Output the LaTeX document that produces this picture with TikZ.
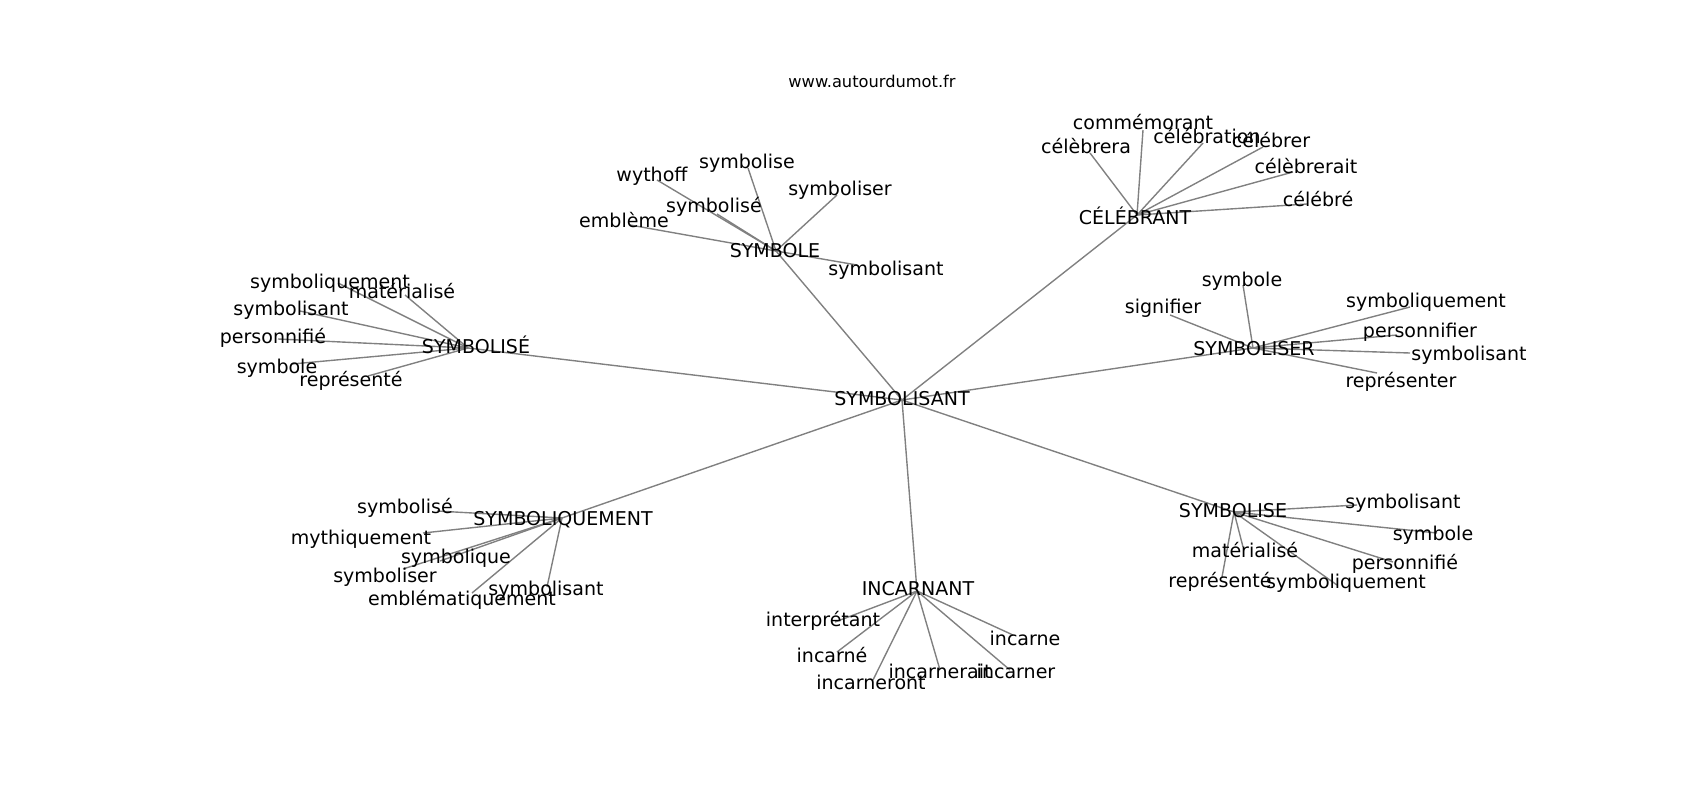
\documentclass[tikz,border=0pt]{standalone}
\usepackage{fontspec}
\setmainfont{DejaVu Sans}
\definecolor{edgegray}{RGB}{128,128,128}
\tikzset{
  lbl/.style={anchor=base, inner sep=0pt, font=\fontsize{13.7}{16}\selectfont, text=black},
  ttl/.style={anchor=base, inner sep=0pt, font=\fontsize{11.7}{14}\selectfont, text=black},
  link/.style={draw=edgegray, line width=1pt},
}
\begin{document}
\begin{tikzpicture}[x=0.72pt,y=-0.72pt]
\useasboundingbox (0,0) rectangle (1700,800);
% ---------- graph points ----------
\coordinate (pC) at (902,400);
\coordinate (pA) at (468,348);
\coordinate (pa1) at (338,283);
\coordinate (pa2) at (405,295);
\coordinate (pa3) at (300,311);
\coordinate (pa4) at (278,339);
\coordinate (pa5) at (292,364);
\coordinate (pa6) at (368,376);
\coordinate (pB) at (776,251);
\coordinate (pb1) at (748,168);
\coordinate (pb2) at (657,180);
\coordinate (pb3) at (837,195);
\coordinate (pb4) at (717,214);
\coordinate (pb5) at (630,225);
\coordinate (pb6) at (857,265);
\coordinate (pD) at (1137,215);
\coordinate (pd1) at (1143,130);
\coordinate (pd2) at (1090,153);
\coordinate (pd3) at (1203,143);
\coordinate (pd4) at (1263,147);
\coordinate (pd5) at (1293,172);
\coordinate (pd6) at (1307,204);
\coordinate (pE) at (1253,348);
\coordinate (pe1) at (1243,285);
\coordinate (pe2) at (1170,315);
\coordinate (pe3) at (1410,307);
\coordinate (pe4) at (1397,335);
\coordinate (pe5) at (1410,353);
\coordinate (pe6) at (1377,373);
\coordinate (pF) at (1234,512);
\coordinate (pf1) at (1357,505);
\coordinate (pf2) at (1437,533);
\coordinate (pf3) at (1393,562);
\coordinate (pf4) at (1337,585);
\coordinate (pf5) at (1243,547);
\coordinate (pf6) at (1222,577);
\coordinate (pG) at (917,591);
\coordinate (pg1) at (835,622);
\coordinate (pg2) at (837,652);
\coordinate (pg3) at (873,680);
\coordinate (pg4) at (940,670);
\coordinate (pg5) at (1010,670);
\coordinate (pg6) at (1013,635);
\coordinate (pH) at (562,518);
\coordinate (ph1) at (437,511);
\coordinate (ph2) at (423,533);
\coordinate (ph3) at (440,561);
\coordinate (ph4) at (403,569);
\coordinate (ph5) at (472,593);
\coordinate (ph6) at (547,587);
% ---------- connectors ----------
\foreach \h in {A,B,D,E,F,G,H} { \draw[link] (pC) -- (p\h); }
\foreach \i in {1,...,6} {
  \draw[link] (pA) -- (pa\i);
  \draw[link] (pB) -- (pb\i);
  \draw[link] (pD) -- (pd\i);
  \draw[link] (pE) -- (pe\i);
  \draw[link] (pF) -- (pf\i);
  \draw[link] (pG) -- (pg\i);
  \draw[link] (pH) -- (ph\i);
}
% ---------- labels ----------
\node[ttl] (title) at (872,87) {www.autourdumot.fr};
\node[lbl] (tC) at (902,405) {SYMBOLISANT};
\node[lbl] (tA) at (476,353) {SYMBOLISÉ};
\node[lbl] (ta1) at (330,288) {symboliquement};
\node[lbl] (ta2) at (402,298) {matérialisé};
\node[lbl] (ta3) at (291,315) {symbolisant};
\node[lbl] (ta4) at (273,343) {personnifié};
\node[lbl] (ta5) at (277,373) {symbole};
\node[lbl] (ta6) at (351,386) {représenté};
\node[lbl] (tB) at (775,257) {SYMBOLE};
\node[lbl] (tb1) at (747,168) {symbolise};
\node[lbl] (tb2) at (652,181) {wythoff};
\node[lbl] (tb3) at (840,195) {symboliser};
\node[lbl] (tb4) at (714,212) {symbolisé};
\node[lbl] (tb5) at (624,227) {emblème};
\node[lbl] (tb6) at (886,275) {symbolisant};
\node[lbl] (tD) at (1135,224) {CÉLÉBRANT};
\node[lbl] (td1) at (1143,129) {commémorant};
\node[lbl] (td2) at (1086,153) {célèbrera};
\node[lbl] (td3) at (1207,143) {célébration};
\node[lbl] (td4) at (1271,147) {célébrer};
\node[lbl] (td5) at (1306,173) {célèbrerait};
\node[lbl] (td6) at (1318,206) {célébré};
\node[lbl] (tE) at (1254,355) {SYMBOLISER};
\node[lbl] (te1) at (1242,286) {symbole};
\node[lbl] (te2) at (1163,313) {signifier};
\node[lbl] (te3) at (1426,307) {symboliquement};
\node[lbl] (te4) at (1420,337) {personnifier};
\node[lbl] (te5) at (1469,360) {symbolisant};
\node[lbl] (te6) at (1401,387) {représenter};
\node[lbl] (tF) at (1233,517) {SYMBOLISE};
\node[lbl] (tf1) at (1403,508) {symbolisant};
\node[lbl] (tf2) at (1433,540) {symbole};
\node[lbl] (tf3) at (1405,569) {personnifié};
\node[lbl] (tf4) at (1346,588) {symboliquement};
\node[lbl] (tf5) at (1245,557) {matérialisé};
\node[lbl] (tf6) at (1220,587) {représenté};
\node[lbl] (tG) at (918,595) {INCARNANT};
\node[lbl] (tg1) at (823,626) {interprétant};
\node[lbl] (tg2) at (832,662) {incarné};
\node[lbl] (tg3) at (871,689) {incarneront};
\node[lbl] (tg4) at (940,678) {incarnerait};
\node[lbl] (tg5) at (1016,678) {incarner};
\node[lbl] (tg6) at (1025,645) {incarne};
\node[lbl] (tH) at (563,525) {SYMBOLIQUEMENT};
\node[lbl] (th1) at (405,513) {symbolisé};
\node[lbl] (th2) at (361,544) {mythiquement};
\node[lbl] (th3) at (456,563) {symbolique};
\node[lbl] (th4) at (385,582) {symboliser};
\node[lbl] (th5) at (462,605) {emblématiquement};
\node[lbl] (th6) at (546,595) {symbolisant};
\end{tikzpicture}
\end{document}
